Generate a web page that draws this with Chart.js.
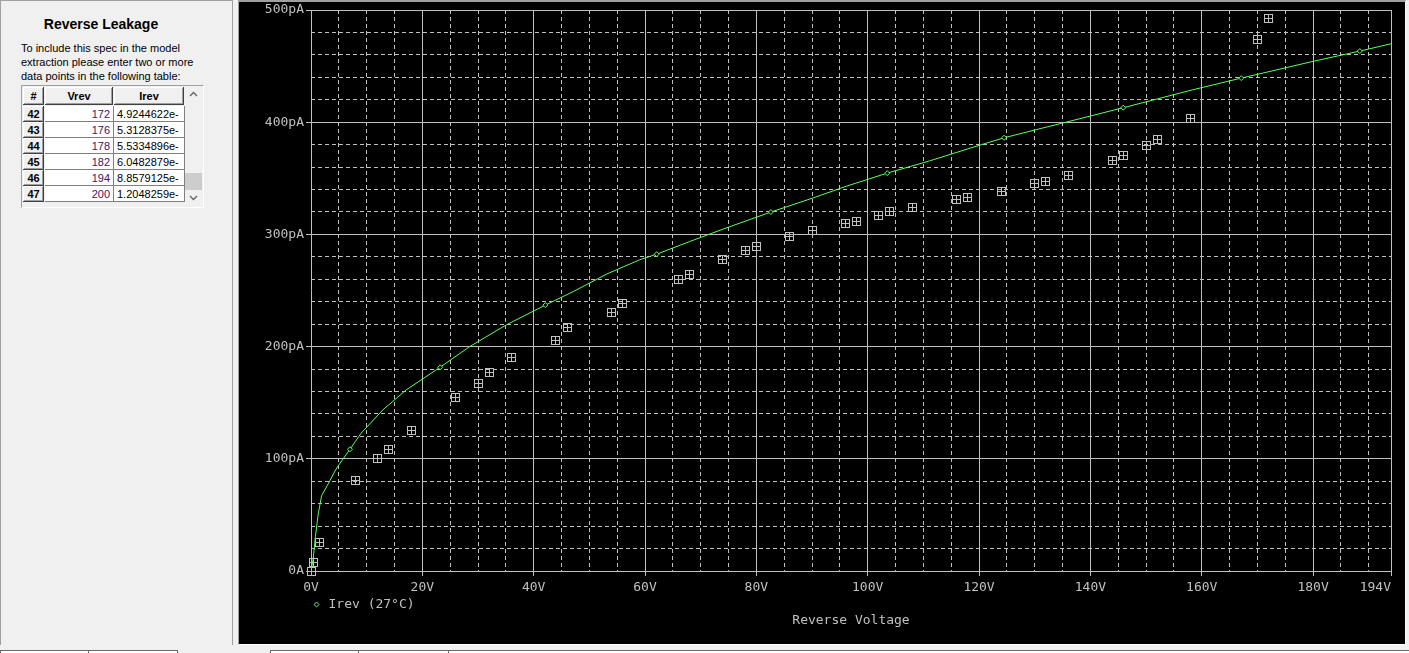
<!DOCTYPE html>
<html><head><meta charset="utf-8">
<script src="https://cdn.jsdelivr.net/npm/chart.js@4.4.1/dist/chart.umd.min.js"></script>
<style>
html,body{margin:0;padding:0;}
body{width:1409px;height:653px;background:#f0f0f0;position:relative;overflow:hidden;font-family:"Liberation Sans",Arial,sans-serif;}
#left{position:absolute;left:0;top:0;width:231px;height:644px;background:#f0f0f0;border-top:1px solid #a0a0a0;border-left:1px solid #a0a0a0;border-right:1px solid #a0a0a0;}
#ttl{position:absolute;left:0;top:15px;width:200px;text-align:center;font-weight:bold;font-size:14px;line-height:16px;color:#000;}
#para{position:absolute;left:20px;top:40px;width:210px;font-size:11px;line-height:14px;color:#000;}
#tbl{position:absolute;left:21px;top:85px;width:181px;height:121px;border:1px solid;border-color:#a0a0a0 #fff #fff #a0a0a0;background:#f0f0f0;}
.c{position:absolute;box-sizing:border-box;font-size:11px;line-height:16px;height:16px;white-space:nowrap;overflow:hidden;}
.btn{background:#f0f0f0;box-shadow:inset -1px -1px #404040,inset 1px 1px #fff,inset -2px -2px #a0a0a0;text-align:center;font-weight:bold;color:#000;}
.hd{height:18px;line-height:18px;}
.w{background:#fff;border-right:1px solid #808080;border-bottom:1px solid #808080;}
#sb{position:absolute;left:185px;top:87px;width:17px;height:118px;background:#f0f0f0;}
#thumb{position:absolute;left:0;top:86px;width:17px;height:17px;background:#cdcdcd;}
#panel{position:absolute;left:238px;top:0;width:1166px;height:642px;background:#000;border-left:1px solid #a0a0a0;border-top:2px solid #a0a0a0;border-right:1px solid #fff;border-bottom:1px solid #fff;}
#cv{position:absolute;left:0;top:0;}
#tabs{position:absolute;left:0;top:650px;width:1409px;height:3px;background:#fff;border-top:1px solid #696969;}
.tab{position:absolute;top:0;height:3px;border-left:1px solid #696969;}
</style></head>
<body>
<div id="left">
  <div id="ttl">Reverse Leakage</div>
  <div id="para">To include this spec in the model<br>extraction please enter two or more<br>data points in the following table:</div>
</div>
<div id="tbl"></div>
<div id="panel"><canvas id="cv" width="1166" height="642"></canvas></div>
<div id="tabs"></div>
<script>
// ---------------- data ----------------
// measured reverse leakage (V, pA)
const measuredV = [0, 0.4, 1.6, 8, 12, 14, 18, 26, 30, 32, 36, 44, 46, 54, 56, 66, 68, 74, 78, 80, 86, 90, 96, 98, 102, 104, 108, 116, 118, 124, 130, 132, 136, 144, 146, 150, 152, 158, 170, 172, 176, 178, 182, 194, 200];
const measuredI = [0, 7.8, 25.6, 81, 100, 108.5, 125.5, 155, 167.4, 177.2, 190.6, 205.7, 216.7, 230.7, 238.7, 260.1, 264.6, 278, 286, 289.6, 298.5, 303.8, 309.7, 311.8, 317.2, 320.1, 324.3, 331.4, 333.2, 338.6, 345.1, 347.5, 352.8, 366.2, 370.7, 379.6, 385, 403.7, 474.1, 492.4, 531.3, 553.3, 604.8, 885.8, 1204.8];
// simulated curve Irev (27°C) (V, pA)
const curveV = [0, 0.4, 0.8, 1.3, 1.9, 3.4, 4.4, 5.2, 7.0, 9.0, 12.9, 17.1, 23.2, 28.5, 35.1, 42.1, 47.1, 53.1, 59.0, 62.1, 68.0, 74.0, 82.6, 90.2, 96.2, 103.5, 111.1, 120.1, 124.5, 130.3, 135.7, 145.9, 158.4, 167.1, 180.0, 188.4, 194];
const curveI = [0, 11, 31, 51, 67, 80.5, 90, 96, 108.5, 122.8, 143.6, 161.4, 181.6, 200, 219.4, 237, 249, 264.6, 277.3, 282.4, 293.6, 304.7, 319.9, 332.5, 343, 354.6, 365.5, 379.5, 386.1, 393.4, 400.1, 412.9, 428.9, 439.3, 454.2, 463.4, 469.9];
// marker positions on the curve
const markerV = [7.0, 23.2, 42.1, 62.1, 82.6, 103.5, 124.5, 145.9, 167.1, 188.4];
const markerI = [108.5, 181.6, 237, 282.4, 319.9, 354.6, 386.1, 412.9, 439.3, 463.4];
// axis ticks
const xTickValues = [0, 20, 40, 60, 80, 100, 120, 140, 160, 180, 194];
const xTickLabels = ['0V', '20V', '40V', '60V', '80V', '100V', '120V', '140V', '160V', '180V', '194V'];
const yTickValues = [0, 100, 200, 300, 400, 500];
const yTickLabels = ['0A', '100pA', '200pA', '300pA', '400pA', '500pA'];
const xMinorStep = 5, yMinorStep = 20;
// side table
const tableNums = ['42', '43', '44', '45', '46', '47'];
const tableVrev = ['172', '176', '178', '182', '194', '200'];
const tableIrev = ['4.9244622e-', '5.3128375e-', '5.5334896e-', '6.0482879e-', '8.8579125e-', '1.2048259e-'];
const seriesLabel = 'Irev (27°C)';
const xTitle = 'Reverse Voltage';

// ---------------- side table ----------------
(function(){
  const t = document.getElementById('tbl');
  const add = (cls, l, tp, w, txt, extra) => {
    const d = document.createElement('div'); d.className = 'c ' + cls;
    d.style.left = (l - 22) + 'px'; d.style.top = (tp - 86) + 'px'; d.style.width = w + 'px';
    if (extra) Object.assign(d.style, extra);
    d.textContent = txt; t.appendChild(d); return d;
  };
  add('btn hd', 23, 87, 21, '#');
  add('btn hd', 45, 87, 68, 'Vrev');
  add('btn hd', 114, 87, 70, 'Irev');
  for (let i = 0; i < tableNums.length; i++) {
    const y = 106 + 16 * i;
    add('btn', 23, y, 21, tableNums[i]);
    add('w', 45, y, 69, tableVrev[i], {textAlign: 'right', paddingRight: '3px', color: '#4a1060'});
    add('w', 114, y, 71, tableIrev[i], {paddingLeft: '3px', color: '#000'});
  }
  const sb = document.createElement('div'); sb.id = 'sb';
  sb.style.left = (185 - 22) + 'px'; sb.style.top = (87 - 86) + 'px';
  sb.innerHTML = '<svg width="17" height="118" style="position:absolute;left:0;top:0">' +
    '<polyline points="5,9 8.5,5.5 12,9" fill="none" stroke="#606060" stroke-width="1.3"/>' +
    '<polyline points="5,109 8.5,112.5 12,109" fill="none" stroke="#606060" stroke-width="1.3"/></svg>' +
    '<div id="thumb"></div>';
  t.appendChild(sb);
  const tabs = document.getElementById('tabs');
  [0, 88, 177, 270, 358, 448].forEach(x => { const d = document.createElement('div'); d.className = 'tab'; d.style.left = x + 'px'; tabs.appendChild(d); });
  const g = document.createElement('div');
  Object.assign(g.style, {position: 'absolute', left: '178px', top: '-1px', width: '92px', height: '4px', background: '#f0f0f0'});
  tabs.appendChild(g);
})();

// ---------------- chart ----------------
const mono = 'DejaVu Sans Mono';
const grey = '#c0c0c0';
const green = '#5cff5c';

const xGrid = [], yGrid = [];
for (let v = 0; v < 194; v += xMinorStep) xGrid.push(v);
xGrid.push(194);
for (let v = 0; v <= 500; v += yMinorStep) yGrid.push(v);

function boxCross(size, color) {
  const c = document.createElement('canvas'); c.width = size; c.height = size;
  const g = c.getContext('2d'); g.strokeStyle = color; g.lineWidth = 1;
  g.strokeRect(0.5, 0.5, size - 1, size - 1);
  const m = Math.floor(size / 2) + 0.5;
  g.beginPath(); g.moveTo(m, 0); g.lineTo(m, size); g.moveTo(0, m); g.lineTo(size, m); g.stroke();
  return c;
}
const sqImg = boxCross(9, grey);

const isMajor = (list, c) => c && c.tick && list.includes(c.tick.value);

new Chart(document.getElementById('cv'), {
  type: 'scatter',
  data: {
    datasets: [
      { label: 'measured', data: measuredV.map((v, i) => ({x: v, y: measuredI[i]})),
        showLine: false, pointStyle: sqImg, pointRadius: 5, clip: {left: 8, top: 0, right: 0, bottom: 8}, order: 2 },
      { label: 'curve', data: curveV.map((v, i) => ({x: v, y: curveI[i]})),
        showLine: true, borderColor: green, borderWidth: 1, pointRadius: 0, tension: 0, fill: false, order: 1 },
      { label: seriesLabel, data: markerV.map((v, i) => ({x: v, y: markerI[i]})),
        showLine: false, pointStyle: 'rectRot', pointRadius: 2.5, borderColor: green, backgroundColor: '#000',
        pointBorderColor: green, pointBackgroundColor: '#000', borderWidth: 1, pointBorderWidth: 1, order: 0 }
    ]
  },
  options: {
    responsive: false, animation: false, devicePixelRatio: 1, events: [],
    layout: { padding: {top: 8, right: 14, bottom: 15.4, left: 0}, autoPadding: false },
    plugins: {
      tooltip: {enabled: false},
      legend: { display: true, position: 'bottom', align: 'start', fullSize: false, maxHeight: 15,
        labels: { filter: it => it.datasetIndex === 2, usePointStyle: true, boxWidth: 11, boxHeight: 3.5, padding: 0,
          color: grey, font: {family: mono, size: 13} } },
      title: { display: true, text: xTitle, position: 'bottom', fullSize: false, color: grey,
        font: {family: mono, size: 13, weight: 'normal', lineHeight: 1.2}, padding: {top: 0, bottom: 0} }
    },
    scales: {
      x: { type: 'linear', min: 0, max: 194,
        afterBuildTicks: s => { s.ticks = xGrid.map(v => ({value: v})); },
        afterFit: s => { s.height = 27; s.paddingLeft = 0; s.paddingRight = 0; },
        ticks: { autoSkip: false, maxRotation: 0, minRotation: 0, padding: 4, color: grey, font: {family: mono, size: 13},
          callback: v => { const k = xTickValues.indexOf(v); if (k < 0) return ''; return k === xTickValues.length - 1 ? xTickLabels[k].padEnd(8, ' ') : xTickLabels[k]; } },
        grid: { color: grey, lineWidth: 1, drawTicks: true, tickLength: 5,
          tickColor: c => isMajor(xTickValues, c) ? grey : 'rgba(0,0,0,0)' },
        border: { display: false, dash: c => (c && c.tick && !xTickValues.includes(c.tick.value)) ? [4, 3] : [] }
      },
      y: { type: 'linear', min: 0, max: 500,
        afterBuildTicks: s => { s.ticks = yGrid.map(v => ({value: v})); },
        afterFit: s => { s.width = 72; s.paddingTop = 0; s.paddingBottom = 0; },
        ticks: { autoSkip: false, padding: 2, color: grey, font: {family: mono, size: 13},
          callback: v => { const k = yTickValues.indexOf(v); return k < 0 ? '' : yTickLabels[k]; } },
        grid: { color: grey, lineWidth: 1, drawTicks: true, tickLength: 5,
          tickColor: c => isMajor(yTickValues, c) ? grey : 'rgba(0,0,0,0)' },
        border: { display: false, dash: c => (c && c.tick && !yTickValues.includes(c.tick.value)) ? [4, 3] : [] }
      }
    }
  },
  plugins: [{ id: 'crisp', beforeDatasetsDraw(chart) { chart.ctx.imageSmoothingEnabled = false; } }]
});
</script>
</body></html>
